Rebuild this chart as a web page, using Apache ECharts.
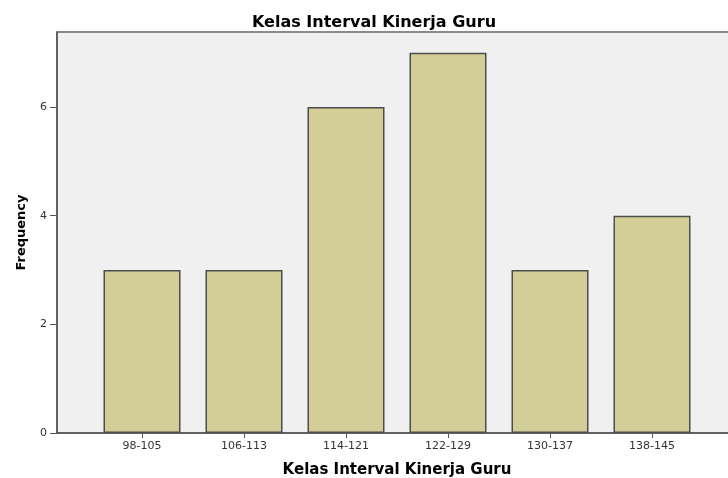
<!DOCTYPE html>
<html><head><meta charset="utf-8">
<script src="https://cdn.jsdelivr.net/npm/echarts@6/dist/echarts.min.js"></script>
<style>html,body{margin:0;padding:0;background:#fff}#c{width:728px;height:478px}</style>
</head><body><div id="c"></div>
<script>
const categories = ["98-105", "106-113", "114-121", "122-129", "130-137", "138-145"];
const frequency = [3, 3, 6, 7, 3, 4];
const yTicks = [0, 2, 4, 6];

const positions = categories.map((c, i) => i);
const barData = frequency.map((v, i) => [positions[i], v]);
const FONT = "DejaVu Sans, Arial, sans-serif";

const chart = echarts.init(document.getElementById('c'), null, {renderer: 'canvas'});
chart.setOption({
  animation: false,
  backgroundColor: '#ffffff',
  title: {
    text: 'Kelas Interval Kinerja Guru',
    left: 369, top: 10, textAlign: 'center',
    textStyle: {fontFamily: FONT, fontSize: 16, fontWeight: 'bold', color: '#000'}
  },
  grid: {
    left: 57, right: -9, top: 32, bottom: 45,
    outerBoundsMode: 'none', containLabel: false,
    show: true, backgroundColor: '#f0f0f0', borderColor: '#666', borderWidth: 1.5
  },
  xAxis: {
    type: 'value',
    min: -0.8333, max: 5.8333,
    name: 'Kelas Interval Kinerja Guru',
    nameLocation: 'middle', nameGap: 30,
    nameTextStyle: {fontFamily: FONT, fontSize: 15, fontWeight: 'bold', color: '#000'},
    axisLine: {show: true, onZero: false, lineStyle: {color: '#555', width: 1.5}},
    axisTick: {show: true, length: 5, customValues: positions, lineStyle: {color: '#555'}},
    axisLabel: {
      customValues: positions, margin: 8,
      fontFamily: FONT, fontSize: 11, color: '#333',
      formatter: v => categories[Math.round(v)]
    },
    splitLine: {show: false}
  },
  yAxis: {
    type: 'value', min: 0, max: 7.38,
    name: 'Frequency', nameLocation: 'middle', nameGap: 29, nameRotate: 90,
    nameTextStyle: {fontFamily: FONT, fontSize: 13, fontWeight: 'bold', color: '#000'},
    axisLine: {show: true, onZero: false, lineStyle: {color: '#555', width: 1.5}},
    axisTick: {show: true, length: 7, customValues: yTicks, lineStyle: {color: '#555'}},
    axisLabel: {
      customValues: yTicks, margin: 10, fontFamily: FONT, fontSize: 11, color: '#333'
    },
    splitLine: {show: false}
  },
  series: [{
    type: 'bar',
    data: barData,
    barWidth: 77,
    itemStyle: {color: '#d3ce97', borderColor: '#4d4d4d', borderWidth: 1.5}
  }]
});
</script></body></html>
